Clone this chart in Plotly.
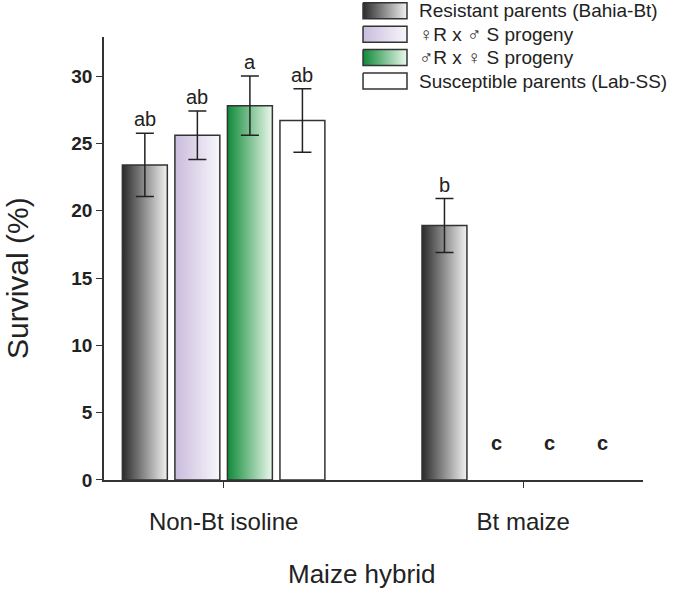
import plotly.graph_objects as go

categories = ["Non-Bt isoline", "Bt maize"]
series_names = ["Resistant parents (Bahia-Bt)", "♀R x ♂ S progeny",
                "♂R x ♀ S progeny", "Susceptible parents (Lab-SS)"]
survival = [[23.4, 18.9], [25.6, 0.0], [27.8, 0.0], [26.7, 0.0]]
sem = [[2.35, 2.0], [1.8, 0.0], [2.2, 0.0], [2.35, 0.0]]
letters = [["ab", "b"], ["ab", "c"], ["a", "c"], ["ab", "c"]]
y_ticks = [0, 5, 10, 15, 20, 25, 30]
x_title = "Maize hybrid"
y_title = "Survival (%)"
gradient_colors = [["#2b2b2b", "#f2f2f2"], ["#c9bcdd", "#f8f6fb"],
                   ["#0f8a38", "#ecf8ec"], ["#ffffff", "#ffffff"]]

PITCH = 0.1753
WIDTH = 0.15
FONT = "Liberation Sans, Arial, sans-serif"
EDGE = "#333333"
TXT = "#222222"
ML, MR, MB = 104, 32, 116
PW = 675 - ML - MR
PH = 596 - MB

fig = go.Figure()
gpos = list(range(len(categories)))

# bars with horizontal gradient fill
for i, name in enumerate(series_names):
    for g in gpos:
        v = survival[i][g]
        if v <= 0:
            continue
        c = g + (i - 1.5) * PITCH
        l, r = c - WIDTH / 2, c + WIDTH / 2
        fig.add_trace(go.Scatter(
            x=[l, r, r, l, l], y=[0, 0, v, v, 0], mode="lines", fill="toself",
            fillgradient=dict(type="horizontal",
                              colorscale=[[0, gradient_colors[i][0]], [1, gradient_colors[i][1]]]),
            line=dict(color=EDGE, width=1.5), name=name, legendgroup=name,
            showlegend=False, hoverinfo="skip"))

# error bars
for i, name in enumerate(series_names):
    idx = [g for g in gpos if survival[i][g] > 0]
    fig.add_trace(go.Scatter(
        x=[g + (i - 1.5) * PITCH for g in idx], y=[survival[i][g] for g in idx],
        mode="markers", marker=dict(size=1, color="rgba(0,0,0,0)"),
        error_y=dict(type="data", array=[sem[i][g] for g in idx], color=TXT,
                     thickness=1.5, width=9, visible=True),
        showlegend=False, hoverinfo="skip", name=name))

# legend swatches (inset axes)
for i, name in enumerate(series_names):
    h = 0.342
    fig.add_trace(go.Scatter(
        x=[0, 1, 1, 0, 0], y=[i - h, i - h, i + h, i + h, i - h], mode="lines", fill="toself",
        fillgradient=dict(type="horizontal",
                          colorscale=[[0, gradient_colors[i][0]], [1, gradient_colors[i][1]]]),
        line=dict(color=EDGE, width=1.5), xaxis="x2", yaxis="y2",
        showlegend=False, hoverinfo="skip", name=name))

annotations = []
for i in range(len(series_names)):
    for g in gpos:
        c = g + (i - 1.5) * PITCH
        v = survival[i][g]
        if v > 0:
            annotations.append(dict(
                x=c, y=v + sem[i][g], xref="x", yref="y", text=letters[i][g],
                showarrow=False, yanchor="middle", yshift=14,
                font=dict(family=FONT, size=20, color=TXT)))
        else:
            annotations.append(dict(
                x=c, y=0, xref="x", yref="y", text="<b>%s</b>" % letters[i][g],
                showarrow=False, yanchor="middle", yshift=37,
                font=dict(family=FONT, size=20, color=TXT)))

for i, name in enumerate(series_names):
    annotations.append(dict(
        x=(417 - ML) / PW, y=i, xref="paper", yref="y2", text=name, showarrow=False,
        xanchor="left", yanchor="middle",
        font=dict(family=FONT, size=19, color=TXT)))

# axis titles
annotations.append(dict(
    x=(361 - ML) / PW, y=(PH - 574) / PH, xref="paper", yref="paper", text=x_title,
    showarrow=False, xanchor="center", yanchor="middle",
    font=dict(family=FONT, size=26, color=TXT)))
annotations.append(dict(
    x=(17 - ML) / PW, y=(PH - 278) / PH, xref="paper", yref="paper", text=y_title,
    textangle=-90, showarrow=False, xanchor="center", yanchor="middle",
    font=dict(family=FONT, size=30, color=TXT)))

fig.update_layout(
    width=675, height=596,
    margin=dict(l=ML, r=MR, t=0, b=MB),
    plot_bgcolor="white", paper_bgcolor="white",
    font=dict(family=FONT, color=TXT),
    showlegend=False,
    annotations=annotations,
    xaxis=dict(range=[-0.3993, 1.3997], tickvals=gpos, ticktext=categories,
               showline=True, linecolor=EDGE, linewidth=1.5, ticks="outside",
               ticklen=6, tickcolor=EDGE, showgrid=False, zeroline=False,
               ticklabelstandoff=13, automargin=False,
               tickfont=dict(family=FONT, size=24, color=TXT)),
    yaxis=dict(range=[0, 32.9], domain=[0, 0.9229], tickvals=y_ticks,
               showline=True, linecolor=EDGE, linewidth=1.5, ticks="outside",
               ticklen=6, tickcolor=EDGE, showgrid=False, zeroline=False,
               automargin=False,
               tickfont=dict(family=FONT, size=19, color=TXT, weight="bold")),
    xaxis2=dict(domain=[0.4724, 0.5703], range=[-0.1, 1.1], anchor="y2",
                visible=False, fixedrange=True, automargin=False),
    yaxis2=dict(domain=[0.8, 1.0], range=[3.641, -0.4615], anchor="x2",
                visible=False, fixedrange=True, automargin=False),
)

fig.write_html("out.html", config={"displayModeBar": False},
               post_script="document.body.style.margin='0px';")
